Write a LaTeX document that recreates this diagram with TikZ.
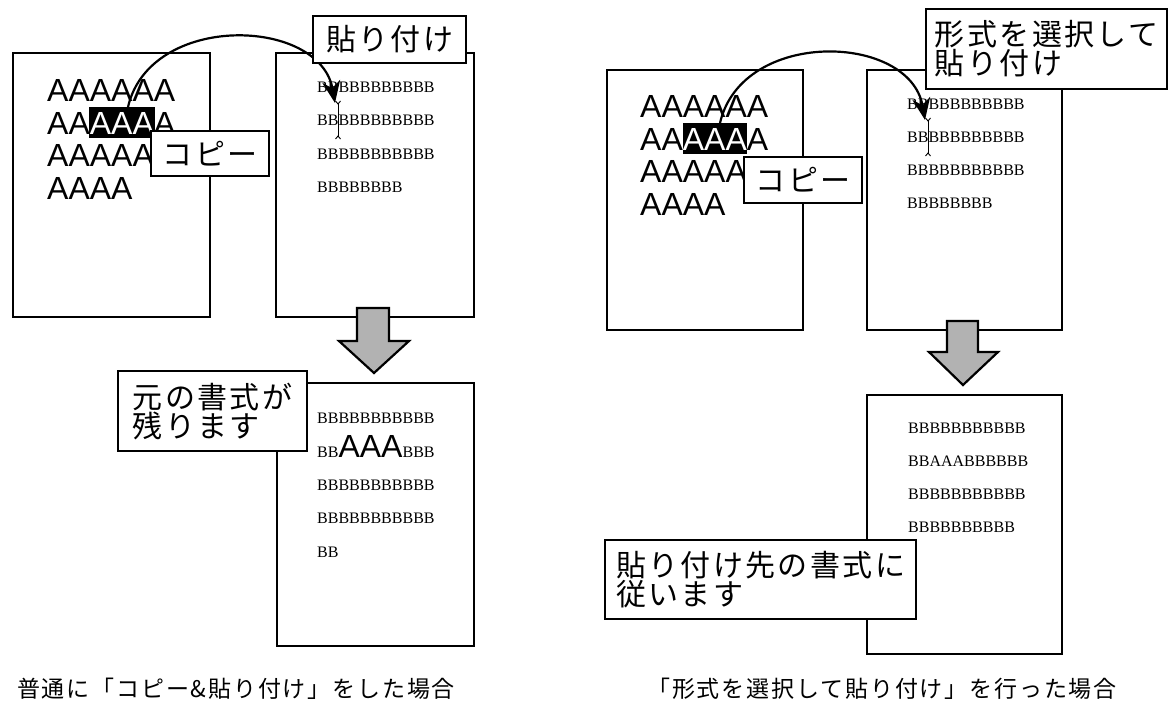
\documentclass[tikz,border=0pt]{standalone}
\usepackage{fontspec}
\usetikzlibrary{arrows.meta}
\newfontfamily\jp[LetterSpace=8]{Noto Sans CJK JP}
\newfontfamily\serifB{Liberation Serif}
\newfontfamily\sansA{Liberation Sans}
\tikzset{
  page/.style={draw, line width=2.2pt, fill=white, anchor=north west, inner sep=0pt},
  lbl/.style={draw, line width=2.2pt, fill=white, font=\jp\fontsize{30}{29}\selectfont, align=left, inner sep=0pt, anchor=north west},
  atext/.style={anchor=base west, inner sep=0pt, font=\sansA\fontsize{32}{32}\selectfont},
  btext/.style={anchor=base west, inner sep=0pt, font=\serifB\fontsize{16}{16}\selectfont},
  move/.style={line width=2.2pt, -{Stealth[length=22pt,width=18pt]}},
  downarrow/.style={draw, line width=2.2pt, fill=black!30, line join=miter},
  ibeam/.style={line width=0.9pt},
  caption/.style={font=\jp\fontsize{23}{23}\selectfont, inner sep=0pt}
}
\begin{document}
\begin{tikzpicture}[x=1pt,y=-1pt]
\useasboundingbox (0,0) rectangle (1169,703);
\fill[white] (0,0) rectangle (1169,703);

% ================= LEFT PANEL =================
\node[page, minimum width=197pt, minimum height=264pt] (srcL) at (12,52) {};
\node[page, minimum width=198pt, minimum height=264pt] (tgtL) at (275,52) {};
% highlight
\fill (89,107) rectangle (155,138);
\node[atext] (aL1) at (47,102) {AAAAAA};
\node[atext] (aL2) at (47,134.5) {AA\textcolor{white}{AAA}A};
\node[atext] (aL3) at (47,167) {AAAAA};
\node[atext] (aL4) at (47,199.5) {AAAA};
% target text
\node[btext] (bL1) at (317,93) {BBBBBBBBBBB};
\node[btext] (bL2) at (317,126) {BBBBBBBBBBB};
\node[btext] (bL3) at (317,160) {BBBBBBBBBBB};
\node[btext] (bL4) at (317,193) {BBBBBBBB};
% cursor
\draw[ibeam] (338,104) -- (338,136);
\draw[ibeam] (335.5,101) -- (338,104) -- (340.5,101);
\draw[ibeam] (335.5,139) -- (338,136) -- (340.5,139);
% copy arc
\coordinate (cpyL) at (128,107);
\coordinate (pstL) at (335,103);
\draw[move] (cpyL) .. controls (150,12) and (320,17) .. (pstL);
% labels
\node[lbl, minimum width=118pt, minimum height=45pt, align=center] (copyL) at (150,130) {コピー};
\node[lbl, minimum width=153pt, minimum height=47pt, align=center] (pasteL) at (312,15) {貼り付け};
% down arrow
\draw[downarrow] (357,308) -- (389,308) -- (389,341) -- (409,341) -- (374,373) -- (339,341) -- (357,341) -- cycle;
% result
\node[page, minimum width=197pt, minimum height=263pt] (resL) at (276,382) {};
\node[btext] (rL1) at (317,423) {BBBBBBBBBBB};
\node[btext] (rL2) at (317,457) {BB{\sansA\fontsize{32}{32}\selectfont AAA}BBB};
\node[btext] (rL3) at (317,490) {BBBBBBBBBBB};
\node[btext] (rL4) at (317,523) {BBBBBBBBBBB};
\node[btext] (rL5) at (317,557) {BB};
\node[lbl, minimum width=189pt, minimum height=80pt] (keepL) at (117,370) {元の書式が\\残ります};

% ================= RIGHT PANEL =================
\node[page, minimum width=196pt, minimum height=260pt] (srcR) at (606,69) {};
\node[page, minimum width=195pt, minimum height=260pt] (tgtR) at (866,69) {};
\fill (683,123) rectangle (747,154);
\node[atext] (aR1) at (640,118) {AAAAAA};
\node[atext] (aR2) at (640,150.5) {AA\textcolor{white}{AAA}A};
\node[atext] (aR3) at (640,183) {AAAAA};
\node[atext] (aR4) at (640,215.5) {AAAA};
\node[btext] (bR1) at (907,110) {BBBBBBBBBBB};
\node[btext] (bR2) at (907,143) {BBBBBBBBBBB};
\node[btext] (bR3) at (907,176) {BBBBBBBBBBB};
\node[btext] (bR4) at (907,209) {BBBBBBBB};
\draw[ibeam] (928,121) -- (928,153);
\draw[ibeam] (925.5,118) -- (928,121) -- (930.5,118);
\draw[ibeam] (925.5,156) -- (928,153) -- (930.5,156);
\coordinate (cpyR) at (720,123);
\coordinate (pstR) at (925,120);
\draw[move] (cpyR) .. controls (742,28) and (910,33) .. (pstR);
\node[lbl, minimum width=118pt, minimum height=46pt, align=center] (copyR) at (743,156) {コピー};
\node[lbl, minimum width=241pt, minimum height=80pt] (pasteR) at (925,8) {形式を選択して\\貼り付け};
\draw[downarrow] (947,321) -- (978,321) -- (978,352) -- (998,352) -- (963,385) -- (929,352) -- (947,352) -- cycle;
\node[page, minimum width=195pt, minimum height=259pt] (resR) at (866,394) {};
\node[btext] (rR1) at (908,433) {BBBBBBBBBBB};
\node[btext] (rR2) at (908,466) {BBAAABBBBBB};
\node[btext] (rR3) at (908,499) {BBBBBBBBBBB};
\node[btext] (rR4) at (908,532) {BBBBBBBBBB};
\node[lbl, minimum width=311pt, minimum height=79pt] (followR) at (604,539) {貼り付け先の書式に\\従います};

% captions
\node[caption] (capL) at (236,689) {普通に「コピー\&貼り付け」をした場合};
\node[caption] (capR) at (882,689) {「形式を選択して貼り付け」を行った場合};
\end{tikzpicture}
\end{document}
